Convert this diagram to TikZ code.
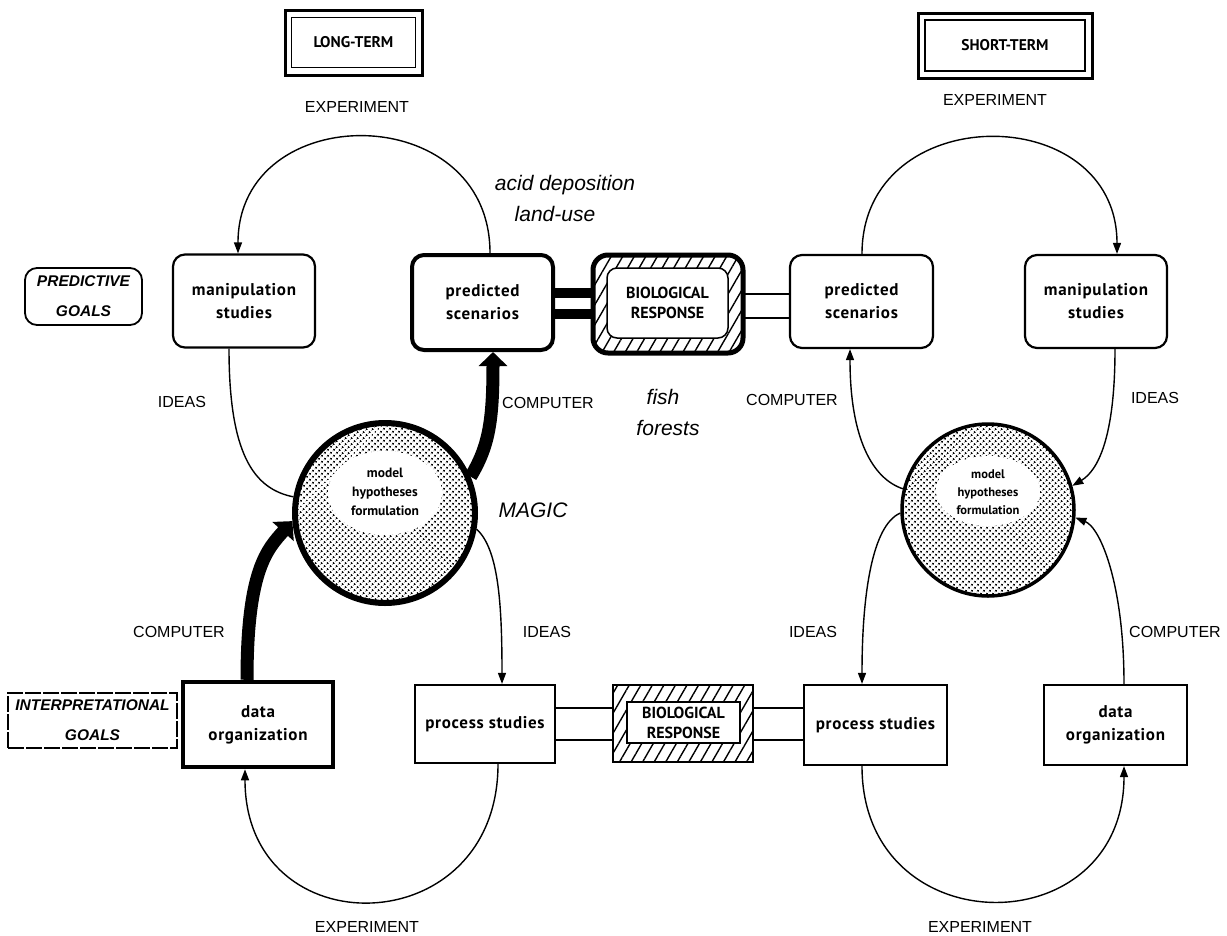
\documentclass[tikz,border=0pt]{standalone}
\usepackage{fontspec}
\setmainfont{Liberation Sans}
\newfontfamily\boxfont{PT Sans}
\newfontfamily\boxfontsp[LetterSpace=4]{PT Sans}
\usetikzlibrary{arrows.meta,patterns.meta,calc}
\begin{document}
\begin{tikzpicture}[x=1pt,y=-1pt,
  lbl/.style={font=\fontsize{16}{18}\selectfont, inner sep=0},
  itl/.style={font=\fontsize{21}{23}\selectfont\itshape, inner sep=0},
  ttl/.style={font=\boxfont\bfseries\fontsize{15.5}{18}\selectfont, inner sep=0},
  goal/.style={font=\bfseries\itshape\fontsize{15.5}{30}\selectfont, align=center, inner sep=0},
  boxtxt/.style={font=\boxfontsp\bfseries\fontsize{17}{23}\selectfont, align=center},
  rbox/.style={draw, line width=2.2pt, rounded corners=12pt, minimum width=142pt, minimum height=93pt, inner sep=0, boxtxt},
  sbox/.style={draw, line width=2.2pt, minimum width=143pt, minimum height=80pt, inner sep=0, boxtxt},
  biotxt/.style={font=\boxfont\bfseries\fontsize{16}{20}\selectfont, align=center, inner sep=0},
  hatch/.style={pattern={Lines[angle=60,distance=10pt,line width=1.4pt]}},
  stipple/.style={pattern={Dots[distance=4pt,radius=1.25pt,angle=45]}},
  circtxt/.style={font=\boxfont\bfseries\fontsize{13.5}{19}\selectfont, align=center, inner sep=0},
  thinarrow/.style={line width=1.4pt, -{Triangle[length=11pt,width=8pt]}},
  thinline/.style={line width=1.4pt},
  fatarrow/.style={line width=13pt, -{Triangle[length=14pt,width=28pt]}},
]
\useasboundingbox (0,0) rectangle (1227,935);

% ---------- title frames
\node[draw, line width=3pt, minimum width=137pt, minimum height=65pt, inner sep=0] (longT) at (353.5,42.5) {};
\node[draw, line width=1.2pt, minimum width=124pt, minimum height=50pt, ttl] (longTi) at (353.5,42.5) {LONG-TERM};
\node[draw, line width=3pt, minimum width=174pt, minimum height=65pt, inner sep=0] (shortT) at (1005,45.5) {};
\node[draw, line width=1.2pt, minimum width=160pt, minimum height=51pt, ttl] (shortTi) at (1005,45.5) {SHORT-TERM};

% ---------- goals
\node[draw, line width=1.8pt, rounded corners=12pt, minimum width=117pt, minimum height=57pt, goal] (predG) at (83.5,296.5) {PREDICTIVE\\GOALS};
\node[draw, line width=1.5pt, dash pattern=on 16pt off 2pt, minimum width=169pt, minimum height=55pt, goal] (interpG) at (92.5,720.5) {INTERPRETATIONAL\\GOALS};

% ---------- top row
\node[rbox] (manipL) at (244,301) {manipulation\\studies};
\node[rbox, line width=4pt, minimum width=141pt, minimum height=95pt] (predL) at (482.5,302.5) {predicted\\scenarios};
\node[draw, line width=5pt, rounded corners=15pt, minimum width=150pt, minimum height=98pt, hatch, inner sep=0] (bioT) at (668,304) {};
\node[draw, fill=white, line width=1.5pt, rounded corners=10pt, minimum width=121pt, minimum height=70pt, biotxt] (bioTi) at (667.5,303) {BIOLOGICAL\\RESPONSE};
\node[rbox, minimum width=143pt] (predR) at (861.5,301.5) {predicted\\scenarios};
\node[rbox] (manipR) at (1096,301.5) {manipulation\\studies};

% ---------- bottom row
\node[sbox, line width=4.5pt, minimum width=150pt, minimum height=85pt] (dataL) at (258,724.5) {data\\organization};
\node[sbox, minimum width=140pt, minimum height=78pt] (procL) at (485,724) {process studies};
\node[draw, line width=2.4pt, minimum width=140pt, minimum height=77pt, hatch, inner sep=0] (bioB) at (683,723.5) {};
\node[draw, fill=white, line width=1.3pt, minimum width=113pt, minimum height=41pt, biotxt] (bioBi) at (683.5,722.5) {BIOLOGICAL\\RESPONSE};
\node[sbox] (procR) at (875.5,725) {process studies};
\node[sbox] (dataR) at (1115.5,725) {data\\organization};

% ---------- circles
\node[circle, draw, line width=6pt, minimum size=180pt, stipple, inner sep=0] (circL) at (385,513) {};
\fill[white] (385,493) ellipse [x radius=57, y radius=42];
\node[circtxt] (circLt) at (385,492) {model\\hypotheses\\formulation};
\node[circle, draw, line width=3.5pt, minimum size=172pt, stipple, inner sep=0] (circR) at (988,510) {};
\fill[white] (988,491) ellipse [x radius=52, y radius=35];
\node[circtxt, font=\boxfont\bfseries\fontsize{12.5}{18}\selectfont] (circRt) at (988,492) {model\\hypotheses\\formulation};

% ---------- links to biological response
\draw[line width=10pt] (predL.east |- 0,293) -- (bioT.west |- 0,293);
\draw[line width=10pt] (predL.east |- 0,314) -- (bioT.west |- 0,314);
\draw[line width=2.4pt] (bioT.east |- 0,294) -- (predR.west |- 0,294);
\draw[line width=2.4pt] (bioT.east |- 0,318) -- (predR.west |- 0,318);
\draw[line width=2pt] (procL.east |- 0,708) -- (bioB.west |- 0,708);
\draw[line width=2pt] (procL.east |- 0,740) -- (bioB.west |- 0,740);
\draw[line width=2pt] (bioB.east |- 0,708) -- (procR.west |- 0,708);
\draw[line width=2pt] (bioB.east |- 0,740) -- (procR.west |- 0,740);

% ---------- left cycle
\draw[thinarrow] ([xshift=7.5pt]predL.north) .. controls +(0,-155) and +(0,-155) .. ([xshift=-6pt]manipL.north);
\draw[thinline] ([xshift=-15pt]manipL.south) .. controls +(0,105) and +(-40,-8) .. (circL.170);
\draw[fatarrow] ([xshift=-11pt]dataL.north) .. controls +(0,-110) and +(-25,28) .. (circL.185);
\draw[fatarrow] (circL.23) .. controls +(18,-30) and +(0,70) .. ([xshift=10.5pt]predL.south);
\draw[thinarrow] (circL.-10) .. controls +(22,20) and +(0,-80) .. ([xshift=17pt]procL.north);
\draw[thinarrow] ([xshift=13pt]procL.south) .. controls +(0,180) and +(0,180) .. ([xshift=-13pt]dataL.south);

% ---------- right cycle
\draw[thinarrow] ([xshift=0.5pt]predR.north) .. controls +(0,-155) and +(0,-155) .. ([xshift=21pt]manipR.north);
\draw[thinarrow] ([xshift=19pt]manipR.south) .. controls +(0,90) and +(25,-15) .. (circR.16);
\draw[thinarrow] (circR.166) .. controls +(-30,-10) and +(0,90) .. ([xshift=-11.5pt]predR.south);
\draw[thinarrow] (circR.182) .. controls +(-28,12) and +(0,-90) .. ([xshift=-13.5pt]procR.north);
\draw[thinarrow] ([xshift=8.5pt]dataR.north) .. controls +(0,-100) and +(25,10) .. (circR.-5);
\draw[thinarrow] ([xshift=-13.5pt]procR.south) .. controls +(0,180) and +(0,180) .. ([xshift=8.5pt]dataR.south);

% ---------- labels
\node[lbl] (expTL) at (357,107) {EXPERIMENT};
\node[lbl] (expTR) at (995,100) {EXPERIMENT};
\node[lbl] (expBL) at (367,927) {EXPERIMENT};
\node[lbl] (expBR) at (980,927) {EXPERIMENT};
\node[lbl] (ideasL) at (182,402) {IDEAS};
\node[lbl] (compM) at (548,403) {COMPUTER};
\node[lbl] (compR) at (792,400) {COMPUTER};
\node[lbl] (ideasR) at (1155,398) {IDEAS};
\node[lbl] (compBL) at (179,632) {COMPUTER};
\node[lbl] (ideasBM) at (547,632) {IDEAS};
\node[lbl] (ideasBR) at (813,632) {IDEAS};
\node[lbl] (compBR) at (1175,632) {COMPUTER};

\node[itl] (acid) at (565,185) {acid deposition};
\node[itl] (landuse) at (555,214) {land-use};
\node[itl] (fish) at (663,397) {fish};
\node[itl] (forests) at (668,428) {forests};
\node[itl] (magic) at (533,510) {MAGIC};
\end{tikzpicture}
\end{document}
